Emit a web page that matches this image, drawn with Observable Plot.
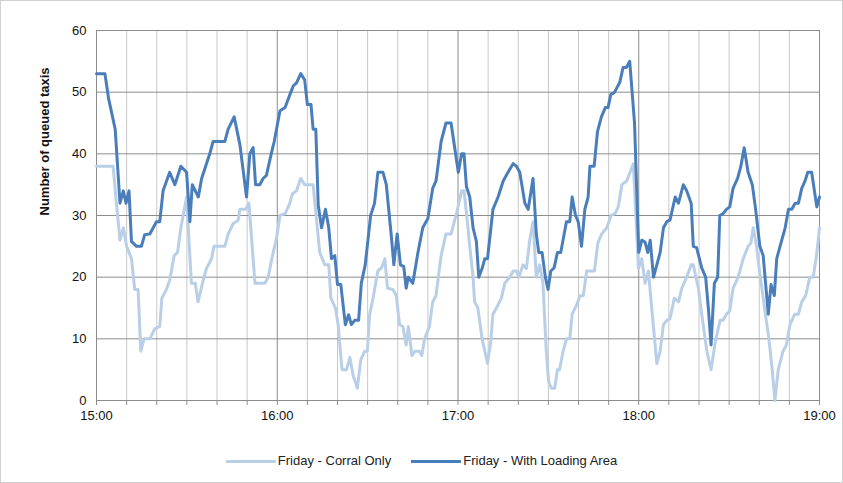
<!DOCTYPE html>
<html><head><meta charset="utf-8">
<script src="https://cdn.jsdelivr.net/npm/d3@7"></script>
<script src="https://cdn.jsdelivr.net/npm/@observablehq/plot@0.6"></script>
<style>
body{margin:0;background:#fff;font-family:"Liberation Sans",Arial,sans-serif;}
#wrap{width:841px;height:481px;border:1px solid #d0d0d0;position:relative;}
#legend{position:absolute;top:452px;left:0;width:100%;text-align:center;font-size:13px;color:#222;}
.sw{display:inline-block;width:50px;height:3px;vertical-align:middle;margin-right:2px;}
</style></head><body>
<div id="wrap"><div id="chart"></div>
<div id="legend"><span class="sw" style="background:#b9cfe8"></span>Friday - Corral Only<span style="display:inline-block;width:20px"></span><span class="sw" style="background:#4a7ebb"></span>Friday - With Loading Area</div></div>
<script>
const corralMin=[0,5.5,6.6,7.8,8.9,10,11.6,12.7,13.8,14.7,15.8,17.7,19.3,21,21.7,23.2,24.3,25.8,26.9,28,29.9,31.5,32.8,33.7,35.4,36.5,38.2,39,42.6,43.7,45.4,47,47.6,49.5,50.6,52.6,55.9,57,58.2,59.8,60.9,62.6,64.2,65,66.4,67.8,69.1,71.9,73,74.1,75.8,77.1,77.8,79.3,80.2,81.5,83,84.1,85.2,86.6,87.7,89,89.9,90.7,91.8,93.4,94.6,95.7,96.6,98.4,99.5,100.6,101.7,102.8,103.5,104.7,105.8,107.2,108,108.9,110.5,111.6,112.7,114.4,116,117.7,119.6,121.2,122,123.1,123.9,125,125.5,126.6,128,129.8,130.9,131.6,133.3,134.4,135.5,137.2,138.3,139.4,140.2,141.6,142.7,143.8,144.9,146,147.1,148.2,149.3,150.1,151,152.1,153,153.7,154.9,156,157.1,157.9,159.4,160.5,161.6,162.7,164.4,165.3,166.4,167.7,169.4,170.8,172.1,173.2,174.4,176,177.1,178.2,179.9,181,182.1,183.2,184.4,186,187.1,188.2,189.3,190.4,191.8,193.2,194.3,195.9,197.4,198.1,199.8,200.9,202.6,204,205.4,207,208,209.1,210.2,211.3,213,214.7,216.3,217.2,218,219.1,220.2,221.9,223.2,224.3,225.2,226.3,227.9,229,230.2,231.8,233,234.1,235.4,236.8,237.9,239,240];
const corralVal=[38,38,32,26,28,25,23,18,18,8,10,10,11.6,12,16.6,18,19.5,23.5,24,28,33,19,19,16,19.5,21.4,23,25,25,27,28.7,29.2,31,31,32,19,19,20,23,26.4,30,30.3,32,33.5,34,36,35,35,29.5,24,22,22,16.6,15,12.3,5,5,7,4,2,6.5,8,8,14,16.6,21,21.5,23,18.2,18,17,12.3,12,9,12,7.3,8,8,7.3,10,12,16,17,23.5,27,27,30.5,34,34,29,25,20,16,15,10,6,9.7,14,15.5,16.6,19,20,21,21,20,22,21.4,26,29,20,22,19,8,3,2,2,5,5,8,10,10,14,15.5,17,17,21,21,21,25.5,27,28,30,30.3,31.4,35,35.6,37,38.4,21.4,23,19,21,14.5,6,8,12.3,13,13.3,16.6,16,18.2,20,22,22,18.2,14,8,5,9.5,13,13,14,14.5,18.2,20,23,25,25.5,28,25,20.5,14.5,10,5,0,5,8,9,12.3,14,14,16,17,20,20,23.5,28];
const loadMin=[0,2.8,4,6.2,7.8,8.9,9.8,10.8,11.6,13.3,14.9,16,17.7,19.9,21,22.1,24.3,26,28,29.9,31,31.8,33.8,34.9,37.6,38.7,42.6,43.7,45.7,47.6,49.8,50.9,52,52.8,54.2,55.3,56.4,58,59,60.9,62.6,64.2,65.3,66.4,67.8,69.1,70,71.2,71.9,72.8,73.6,74.7,76,77.1,78,79.1,80,81.1,82.6,83.7,84.6,85.7,87,87.9,89.2,91,92.3,93.4,95.1,96.2,97.8,98.7,99.8,100.9,102,102.8,103.5,105,106.7,108.3,110,111.6,112.7,114.4,116,117.7,120.1,121.2,122,122.8,123.9,125,126.1,126.9,128,128.9,129.8,131.6,133.3,135,136.6,138.3,139.4,140.5,142.2,143.3,144.9,146,146.8,147.9,149,149.9,150.8,151.9,153,154.1,156,157.1,157.9,159,159.9,161,162.1,163.2,163.8,165.2,166.3,167.6,168.9,169.8,170.7,172,173.7,174.8,175.9,177,178.6,180,181,182.1,183,183.8,184.9,186,187.1,188.2,189.3,190.4,192.1,193.2,194.8,195.9,197.4,198.1,199.2,200.9,202.2,203.1,204,205.1,206.2,206.9,208,209.1,210.2,211.3,212.8,213.9,215,216.3,217.7,218.8,220.2,221.3,223,223.9,225,225.8,226.9,228.6,229.7,230.8,231.9,233,234.1,235.2,236.1,237.4,239.1,240];
const loadVal=[53,53,49,44,32,34,32,34,25.8,25,25,26.9,27,29,29,34,37,35,38,37,29,35,33,36,40,42,42,44,46,41.5,33,40,41,35,35,36,36.5,40,42,47,47.5,49.6,51,51.5,53,52,48,48,44,44,31.7,28,31,28,23,23.5,18.8,18.8,12.3,13.9,12.3,13,13,19,22,30,32,37,37,35,27,22,27,22,21.7,18.2,20,19,24,28,29.5,34.4,35.6,42,45,45,37,40,40,34.7,33,28,25.8,20,21.4,23,23,31,33,35.6,37,38.4,38,37,32,31,36,27,24,24,20,18,21,21.5,24,24,29,29,33,30,29,25,31,33,38,38,43.6,46,47.5,47.5,49.6,50,51.6,54,54,55,45,24,26,25.7,24,26,20,22,24,28,29,29.3,33,32,35,34,32,25,24.8,21.5,20,15,9,19,20,30,30.3,31,31.4,34.4,36,38,41,37,35,31,25,23.5,14,18.8,17,23,25,28,31,31,32,32,34.4,35.6,37,37,31.4,33];
const xTicks=[0,60,120,180,240];
const xTickLabels=["15:00","16:00","17:00","18:00","19:00"];
const yTicks=[0,10,20,30,40,50,60];

const corral=corralMin.map((m,i)=>({m,v:corralVal[i]}));
const load=loadMin.map((m,i)=>({m,v:loadVal[i]}));
const minor=d3.range(10,240,10).filter(d=>d%60!==0);

const chart=Plot.plot({
  width:841,height:445,marginLeft:95,marginRight:23,marginTop:29,marginBottom:46,
  style:{fontFamily:"Liberation Sans, Arial, sans-serif",fontSize:"13px",color:"#111"},
  x:{type:"linear",domain:[0,240],ticks:xTicks,tickFormat:d=>xTickLabels[xTicks.indexOf(d)],tickSize:0,tickPadding:10,label:null},
  y:{type:"linear",domain:[0,60],ticks:yTicks,tickSize:0,tickPadding:10,label:null},
  marks:[
    Plot.ruleX(minor,{stroke:"#c8c8c8",strokeWidth:1}),
    Plot.ruleX([60,120,180,240],{stroke:"#8c8c8c",strokeWidth:1}),
    Plot.ruleY(yTicks,{stroke:"#8c8c8c",strokeWidth:1}),
    Plot.ruleX([0],{stroke:"#8c8c8c"}),
    Plot.ruleX(d3.range(0,241,10),{y1:0,y2:-0.8,stroke:"#8c8c8c"}),
    Plot.line(corral,{x:"m",y:"v",stroke:"#b9cfe8",strokeWidth:3}),
    Plot.line(load,{x:"m",y:"v",stroke:"#4a7ebb",strokeWidth:3}),
    Plot.text(["Number of queued taxis"],{frameAnchor:"left",rotate:-90,dx:-52,fontWeight:"bold",fontSize:13})
  ]
});
document.getElementById("chart").appendChild(chart);
</script></body></html>
